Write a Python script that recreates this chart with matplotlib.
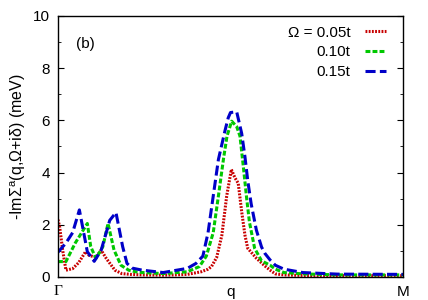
import matplotlib
matplotlib.use("Agg")
import matplotlib.pyplot as plt
from matplotlib.ticker import MultipleLocator

plt.rcParams['font.family'] = ['Liberation Sans', 'DejaVu Sans']
plt.rcParams['mathtext.fontset'] = 'custom'
plt.rcParams['mathtext.rm'] = 'Liberation Sans'
plt.rcParams['mathtext.it'] = 'Liberation Sans'

# path coordinate: Gamma = 0, q = 1, M = 2
x_005 = [0.0, 0.01, 0.027, 0.046, 0.085, 0.12, 0.16, 0.18, 0.22, 0.25,
         0.28, 0.33, 0.37, 0.42, 0.49, 0.61, 0.67, 0.75, 0.83, 0.87,
         0.89, 0.92, 0.95, 0.978, 1.005, 1.026, 1.045, 1.065, 1.084, 1.10,
         1.15, 1.2, 1.23, 1.26, 1.31, 1.42, 1.62, 2.0]
y_005 = [2.2, 1.9, 1.03, 0.26, 0.32, 0.55, 0.97, 0.83, 0.75, 1.03,
         0.71, 0.26, 0.13, 0.1, 0.08, 0.07, 0.08, 0.1, 0.2, 0.3,
         0.4, 0.75, 1.6, 3.1, 4.12, 3.8, 3.59, 2.5, 1.6, 1.1,
         0.72, 0.42, 0.26, 0.12, 0.08, 0.06, 0.05, 0.05]

x_010 = [0.0, 0.046, 0.10, 0.17, 0.19, 0.22, 0.26, 0.29, 0.325, 0.365,
         0.41, 0.45, 0.49, 0.61, 0.75, 0.82, 0.86, 0.90, 0.93, 0.96,
         0.98, 1.007, 1.036, 1.055, 1.075, 1.094, 1.11, 1.14, 1.18, 1.23,
         1.26, 1.31, 1.42, 1.62, 2.0]
y_010 = [0.59, 0.59, 1.3, 2.05, 1.16, 0.71, 1.16, 2.05, 1.03, 0.45,
         0.26, 0.2, 0.17, 0.13, 0.2, 0.4, 0.8, 1.7, 3.1, 4.55,
         5.4, 5.97, 5.76, 5.4, 4.2, 3.0, 2.1, 1.1, 0.62, 0.45,
         0.3, 0.17, 0.12, 0.08, 0.08]

x_015 = [0.0, 0.046, 0.085, 0.124, 0.17, 0.21, 0.25, 0.30, 0.336, 0.375,
         0.40, 0.43, 0.49, 0.61, 0.67, 0.75, 0.80, 0.84, 0.87, 0.90,
         0.93, 0.968, 0.987, 1.0, 1.036, 1.065, 1.084, 1.10, 1.12, 1.15,
         1.18, 1.2, 1.23, 1.26, 1.31, 1.42, 1.62, 2.0]
y_015 = [0.95, 1.3, 1.7, 2.57, 0.97, 0.6, 1.02, 2.17, 2.47, 1.16,
         0.52, 0.34, 0.26, 0.17, 0.24, 0.33, 0.52, 0.8, 1.7, 3.1,
         4.5, 5.6, 6.1, 6.3, 6.33, 5.5, 4.6, 3.7, 2.8, 1.8,
         1.15, 0.9, 0.65, 0.45, 0.3, 0.17, 0.11, 0.1]

labels = ["Ω = 0.05t", "0.10t", "0.15t"]
tick_pos = [0, 1, 2]
tick_names = ["Γ", "q", "M"]

fig = plt.figure(figsize=(4.28, 3.0), dpi=100)
ax = fig.add_axes([0.1355, 0.0767, 0.806, 0.87])

lw = 2.2
ax.plot(x_005, y_005, color='#c80000', lw=lw, dashes=(0.6, 0.45), label=labels[0])
ax.plot(x_010, y_010, color='#00c800', lw=lw, dashes=(1.6, 0.7), label=labels[1])
ax.plot(x_015, y_015, color='#0000c8', lw=lw, dashes=(3.3, 1.4), label=labels[2])

ax.set_xlim(0, 2)
ax.set_ylim(0, 10)
ax.set_xticks(tick_pos)
ax.set_xticklabels(tick_names, fontsize=11)
ax.get_xticklabels()[0].set_family(['Liberation Serif', 'DejaVu Serif'])
ax.yaxis.set_major_locator(MultipleLocator(2))
ax.yaxis.set_minor_locator(MultipleLocator(1))
ax.tick_params(axis='y', which='major', direction='in', length=4, right=True,
               labelsize=11, pad=6)
ax.tick_params(axis='y', which='minor', direction='in', length=2, right=True)
ax.tick_params(axis='x', direction='in', length=0, labelsize=11, pad=6)
for s in ax.spines.values():
    s.set_linewidth(1.0)

ax.set_ylabel('-ImΣ$^{a}$(q,Ω+iδ) (meV)', fontsize=11.5, labelpad=3)
ax.text(0.078, 0.893, '(b)', transform=ax.transAxes, fontsize=11,
        ha='center', va='center')

# markerfirst=False right-aligns the entries, text sits left of the sample
ax.legend(loc='upper right', frameon=False, markerfirst=False,
          fontsize=11, handlelength=1.35, handletextpad=1.0,
          labelspacing=0.38, borderaxespad=0, borderpad=0,
          bbox_to_anchor=(0.951, 0.963))

fig.savefig('out.png', dpi=100)
